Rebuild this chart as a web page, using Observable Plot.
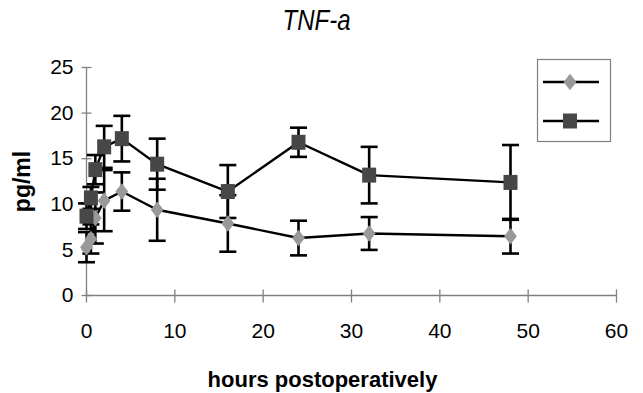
<!DOCTYPE html>
<html><head><meta charset="utf-8">
<script src="https://cdn.jsdelivr.net/npm/d3@7"></script>
<script src="https://cdn.jsdelivr.net/npm/@observablehq/plot@0.6"></script>
<style>
html,body{margin:0;padding:0;background:#fff;}
#wrap{position:relative;width:643px;height:393px;overflow:hidden;}
#wrap svg{display:block;}
#legend{position:absolute;left:0;top:0;}
</style></head><body><div id="wrap"></div>
<script>
const title = "TNF-a";
const xLabel = "hours postoperatively";
const yLabel = "pg/ml";
const hours = [0, 0.5, 1, 2, 4, 8, 16, 24, 32, 48];
const diamondMean = [5.3, 6.2, 8.5, 10.4, 11.4, 9.4, 7.9, 6.3, 6.8, 6.5];
const diamondSD = [1.65, 1.6, 2.8, 3.35, 2.1, 3.4, 3.1, 1.9, 1.8, 1.9];
const squareMean = [8.7, 10.7, 13.8, 16.3, 17.2, 14.4, 11.4, 16.8, 13.2, 12.4];
const squareSD = [1.4, 1.2, 1.6, 2.3, 2.5, 2.8, 2.9, 1.6, 3.1, 4.1];
const xTicks = [0, 10, 20, 30, 40, 50, 60];
const yTicks = [0, 5, 10, 15, 20, 25];

const diamondRows = hours.map((h, i) => ({h, mean: diamondMean[i], sd: diamondSD[i]}));
const squareRows = hours.map((h, i) => ({h, mean: squareMean[i], sd: squareSD[i]}));

const capSym = {draw(ctx) { ctx.moveTo(-8.5, 0); ctx.lineTo(8.5, 0); }};
const vTick = {draw(ctx) { ctx.moveTo(0, -6); ctx.lineTo(0, 7); }};
const hTick = {draw(ctx) { ctx.moveTo(-5, 0); ctx.lineTo(5, 0); }};
const diamondSym = {draw(ctx) { ctx.moveTo(0, -8.3); ctx.lineTo(6.4, 0); ctx.lineTo(0, 8.3); ctx.lineTo(-6.4, 0); ctx.closePath(); }};
const squareSym = {draw(ctx) { ctx.rect(-7, -7.5, 14, 15); }};

const DCOL = "#999999", SCOL = "#474747", AXIS = "#808080";
const font = "'Liberation Sans', Arial, sans-serif";

function errMarks(rows) {
  return [
    Plot.ruleX(rows, {x: "h", y1: d => d.mean - d.sd, y2: d => d.mean + d.sd, stroke: "black", strokeWidth: 2.6}),
    Plot.dot(rows, {x: "h", y: d => d.mean - d.sd, symbol: capSym, stroke: "black", fill: "none", strokeWidth: 2.6}),
    Plot.dot(rows, {x: "h", y: d => d.mean + d.sd, symbol: capSym, stroke: "black", fill: "none", strokeWidth: 2.6})
  ];
}

const chart = Plot.plot({
  width: 643, height: 393,
  marginLeft: 86, marginRight: 27, marginTop: 67, marginBottom: 98,
  x: {domain: [0, 60], axis: null},
  y: {domain: [0, 25], axis: null},
  style: {fontFamily: font, background: "white", overflow: "visible"},
  marks: [
    Plot.ruleY([0], {stroke: AXIS, strokeWidth: 1.3}),
    Plot.ruleX([0], {stroke: AXIS, strokeWidth: 1.3}),
    Plot.dot(xTicks, {x: d => d, y: 0, symbol: vTick, stroke: AXIS, fill: "none", strokeWidth: 1.3}),
    Plot.dot(yTicks, {x: 0, y: d => d, symbol: hTick, stroke: AXIS, fill: "none", strokeWidth: 1.3}),
    Plot.text(xTicks, {x: d => d, y: 0, text: d => String(d), dy: 36, fontSize: 21, fill: "black"}),
    Plot.text(yTicks, {x: 0, y: d => d, text: d => String(d), textAnchor: "end", dx: -13, fontSize: 21, fill: "black"}),
    Plot.line(diamondRows, {x: "h", y: "mean", stroke: "black", strokeWidth: 2.4}),
    Plot.line(squareRows, {x: "h", y: "mean", stroke: "black", strokeWidth: 2.4}),
    ...errMarks(diamondRows),
    ...errMarks(squareRows),
    Plot.dot(diamondRows, {x: "h", y: "mean", symbol: diamondSym, fill: DCOL, stroke: "none"}),
    Plot.dot(squareRows, {x: "h", y: "mean", symbol: squareSym, fill: SCOL, stroke: "none"}),
    Plot.text([title], {frameAnchor: "top", textAnchor: "middle", lineAnchor: "middle", dx: -35, dy: -47, fontSize: 30, fontStyle: "italic", fill: "black"}),
    Plot.text([xLabel], {frameAnchor: "bottom", textAnchor: "middle", lineAnchor: "middle", dx: -29, dy: 84, fontSize: 22, fontWeight: "bold", fill: "black"}),
    Plot.text([yLabel], {frameAnchor: "left", textAnchor: "middle", lineAnchor: "middle", rotate: -90, dx: -64, dy: 0, fontSize: 23, fontWeight: "bold", fill: "black"})
  ]
});
document.getElementById("wrap").appendChild(chart);

// condense the title like the original's narrow lettering
d3.select(chart).selectAll("text").each(function() {
  if (this.textContent === title) d3.select(this).attr("textLength", 68).attr("lengthAdjust", "spacingAndGlyphs");
});

// legend (entries have no text in the original)
const leg = d3.select("#wrap").append("svg").attr("id", "legend").attr("width", 643).attr("height", 393);
leg.append("rect").attr("x", 537.5).attr("y", 59.5).attr("width", 73).attr("height", 82)
  .attr("fill", "white").attr("stroke", AXIS).attr("stroke-width", 1.2);
const entries = [{sym: diamondSym, fill: DCOL, y: 82}, {sym: squareSym, fill: SCOL, y: 121}];
for (const e of entries) {
  leg.append("line").attr("x1", 543).attr("x2", 599).attr("y1", e.y).attr("y2", e.y).attr("stroke", "black").attr("stroke-width", 2.4);
  leg.append("path").attr("d", d3.symbol(e.sym)()).attr("transform", `translate(570,${e.y})`).attr("fill", e.fill);
}
</script></body></html>
